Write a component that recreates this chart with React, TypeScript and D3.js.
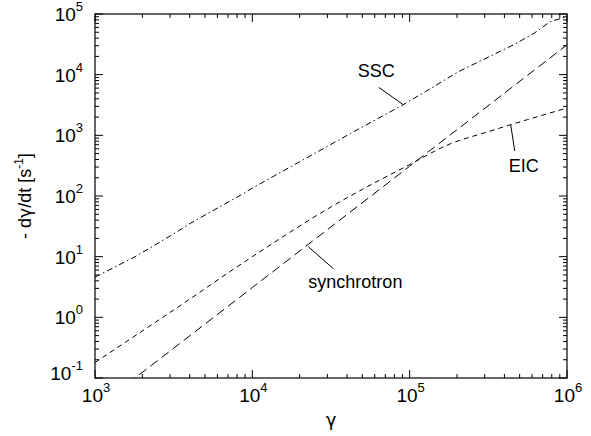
import React, { useRef, useEffect } from 'react';
import * as d3 from 'd3';

// energy-loss rates
const gammaSSC = [1e3, 1.8e3, 3.1e3, 4e3, 8.9e3, 1e4, 1.78e4, 4.2e4, 8.9e4, 1.26e5, 2.04e5, 4.57e5, 6.17e5, 7.76e5, 1e6];
const rateSSC = [4.6, 10, 23, 35, 112, 135, 310, 1070, 3100, 5250, 11200, 31000, 48000, 74000, 91000];

const gammaEIC = [1e3, 3.16e3, 1e4, 3.16e4, 1e5, 1.78e5, 3.16e5, 5.62e5, 1e6];
const rateEIC = [0.18, 1.32, 10, 66, 330, 710, 1150, 1820, 2820];

const gammaSync = [1e3, 1e4, 1e5, 1e6];
const rateSync = [0.031, 3.1, 310, 31000];

const xDecades = [3, 4, 5, 6];
const yDecades = [-1, 0, 1, 2, 3, 4, 5];

// labels anchored on a curve point (data coords), pointer/text offsets in px
const notes = [
  { text: 'SSC', g: 9.04e4, v: 3240, lx: -24, ly: -17, tx: -45, ty: -27 },
  { text: 'EIC', g: 4.39e5, v: 1480, lx: 4, ly: 26, tx: -2, ty: 47 },
  { text: 'synchrotron', g: 2.27e4, v: 14.6, lx: 25, ly: 22, tx: 0, ty: 41 }
];

const W = 591;
const H = 436;
const font = '"Liberation Sans", Arial, Helvetica, sans-serif';
const greek = '"DejaVu Sans", sans-serif';

const App: React.FC = () => {
  const ref = useRef<SVGSVGElement>(null);

  useEffect(() => {
    const svg = d3.select(ref.current);
    svg.selectAll('*').remove();

    const left = 95, right = 567, top = 14, bottom = 378;
    const x = d3.scaleLog().domain([1e3, 1e6]).range([left, right]);
    const y = d3.scaleLog().domain([1e-1, 1e5]).range([bottom, top]);

    svg.append('defs').append('clipPath').attr('id', 'plot')
      .append('rect').attr('x', left).attr('y', top)
      .attr('width', right - left).attr('height', bottom - top);

    // frame
    svg.append('rect')
      .attr('x', left).attr('y', top)
      .attr('width', right - left).attr('height', bottom - top)
      .attr('fill', 'none').attr('stroke', '#000').attr('stroke-width', 1.2);

    // ticks, inside on all four sides
    const ticks = svg.append('g').attr('stroke', '#000').attr('stroke-width', 1);
    const major = 8, minor = 4;
    xDecades.forEach(d => {
      const vals = [Math.pow(10, d)];
      if (d < 6) for (let k = 2; k < 10; k++) vals.push(k * Math.pow(10, d));
      vals.forEach((v, i) => {
        const len = i === 0 ? major : minor;
        const px = x(v);
        ticks.append('line').attr('x1', px).attr('x2', px).attr('y1', bottom).attr('y2', bottom - len);
        ticks.append('line').attr('x1', px).attr('x2', px).attr('y1', top).attr('y2', top + len);
      });
    });
    yDecades.forEach(d => {
      const vals = [Math.pow(10, d)];
      if (d < 5) for (let k = 2; k < 10; k++) vals.push(k * Math.pow(10, d));
      vals.forEach((v, i) => {
        const len = i === 0 ? major : minor;
        const py = y(v);
        ticks.append('line').attr('y1', py).attr('y2', py).attr('x1', left).attr('x2', left + len);
        ticks.append('line').attr('y1', py).attr('y2', py).attr('x1', right).attr('x2', right - len);
      });
    });

    // tick labels
    xDecades.forEach(d => {
      const t = svg.append('text')
        .attr('x', x(Math.pow(10, d)) + 1).attr('y', 402)
        .attr('text-anchor', 'middle')
        .attr('font-family', font).attr('font-size', 19);
      t.append('tspan').text('10');
      t.append('tspan').attr('dy', -10).attr('font-size', 13).text(String(d));
    });
    yDecades.forEach(d => {
      const t = svg.append('text')
        .attr('x', left - 12).attr('y', y(Math.pow(10, d)) + (d === -1 ? 2 : 7))
        .attr('text-anchor', 'end')
        .attr('font-family', font).attr('font-size', 19);
      t.append('tspan').text('10');
      t.append('tspan').attr('dy', -10).attr('font-size', 13).text(String(d));
    });

    // axis titles
    svg.append('text')
      .attr('x', (left + right) / 2).attr('y', 426)
      .attr('text-anchor', 'middle')
      .attr('font-family', greek).attr('font-size', 18)
      .text('γ');

    const yt = svg.append('text')
      .attr('transform', `translate(31,${(top + bottom) / 2}) rotate(-90)`)
      .attr('text-anchor', 'middle')
      .attr('font-family', font).attr('font-size', 18);
    yt.append('tspan').text('- d');
    yt.append('tspan').attr('font-family', greek).attr('font-size', 17).text('γ');
    yt.append('tspan').text('/dt [s');
    yt.append('tspan').attr('dy', -8).attr('font-size', 12).text('-1');
    yt.append('tspan').attr('dy', 8).text(']');

    // curves
    const straight = d3.line<[number, number]>()
      .x(d => x(d[0]))
      .y(d => y(d[1]));
    const smooth = d3.line<[number, number]>()
      .x(d => x(d[0]))
      .y(d => y(d[1]))
      .curve(d3.curveMonotoneX);

    const curves = [
      { g: gammaSSC, v: rateSSC, dash: '6,3,1.5,3', gen: straight },
      { g: gammaEIC, v: rateEIC, dash: '5,4', gen: smooth },
      { g: gammaSync, v: rateSync, dash: '9,5', gen: straight }
    ];
    const plot = svg.append('g').attr('clip-path', 'url(#plot)');
    curves.forEach(c => {
      plot.append('path')
        .datum(c.g.map((g, i) => [g, c.v[i]] as [number, number]))
        .attr('fill', 'none')
        .attr('stroke', '#000')
        .attr('stroke-width', 1)
        .attr('stroke-dasharray', c.dash)
        .attr('d', c.gen);
    });

    // annotations
    notes.forEach(n => {
      const px = x(n.g), py = y(n.v);
      svg.append('line')
        .attr('x1', px).attr('y1', py)
        .attr('x2', px + n.lx).attr('y2', py + n.ly)
        .attr('stroke', '#000').attr('stroke-width', 1);
      svg.append('text')
        .attr('x', px + n.tx).attr('y', py + n.ty)
        .attr('font-family', font).attr('font-size', 18)
        .text(n.text);
    });
  }, []);

  return (
    <div style={{ position: 'absolute', left: 0, top: 0 }}>
      <svg ref={ref} width={W} height={H} style={{ display: 'block', background: '#fff' }}></svg>
    </div>
  );
};

export default App;
